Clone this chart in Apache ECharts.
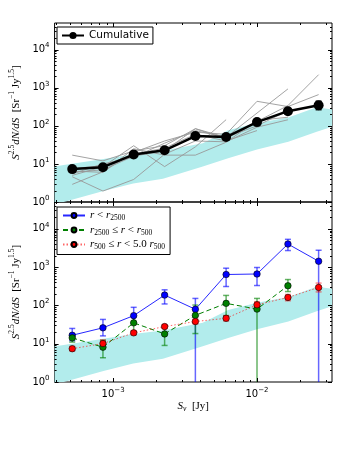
<!DOCTYPE html>
<html>
<head>
<meta charset="utf-8">
<script src="https://cdn.jsdelivr.net/npm/echarts@6/dist/echarts.min.js"></script>
<style>
    html, body { margin: 0; padding: 0; background: #fff; }
    #main { width: 350px; height: 450px; }
</style>
</head>
<body>
<div id="main"></div>
<script>
// flux bins [Jy]
var fluxBins = [5.2e-4, 8.5e-4, 1.39e-3, 2.28e-3, 3.73e-3, 6.1e-3, 1.0e-2, 1.64e-2, 2.68e-2];

// cumulative counts + errors
var cumVal = [7.3, 8.2, 17.6, 22.8, 53.8, 50.7, 125, 242, 347];
var cumLo = [6.6, 7.4, 16, 20.5, 48, 45, 108, 205, 265];
var cumHi = [8, 9, 19.2, 25, 60, 57, 145, 285, 440];

// single clusters (grey)
var grayA = [17, 12, 22, 30, 84, 50, 216, 930, null];
var grayB = [5, 8.4, 30, 8.5, 28, 145, null, null, null];
var grayC = [4.6, 1.94, 3.9, 18, 40, 38, 92, 144, null];
var grayD = [2.9, 6.2, 20, 40, 68, 60, 440, 320, 660];
var grayE = [6.5, 6, 25, 17, 17, 37, 138, 168, null];
var grayF = [6, 7, 16, 22, 84, 45, 130, 340, 2200];
var grayG = [7.5, 9, 18, 26, 60, 40, 75, null, null];
var grayH = [5.5, 10, 15, 35, 75, 50, 100, 250, null];

// radial bins
var innerVal = [16.6, 26, 54, 186, 79, 640, 660, 4000, 1420];
var innerLo = [12, 16, 35, 109, 0.1, 311, 330, 2700, 0.1];
var innerHi = [25, 43, 89, 255, 152, 935, 975, 5300, 2750];

var midVal = [14.2, 8.1, 35, 18, 55, 113, 80, 325, null];
var midLo = [11, 4.3, 21, 9, 18.4, 54, 0.1, 230, null];
var midHi = [18, 12.3, 52, 28, 102, 182, 152, 473, null];

var outVal = [7.4, 10.1, 19.2, 28, 38, 46, 104, 161, 294];
var outLo = [6.5, 8, 17, 25, 33, 39, 85, 132, 225];
var outHi = [8.5, 12.5, 21.5, 31, 44, 54, 125, 192, 382];

// model band (cyan)
var bandX = [3.92e-4, 4.54e-4, 8.57e-4, 1.38e-3, 2.22e-3, 4.2e-3, 6.3e-3, 1.0e-2, 1.65e-2, 2.6e-2, 3.32e-2];
var bandHi = [8.6, 9.3, 13.4, 18, 22, 35, 76, 118, 165, 305, 270];
var bandLo = [0.8, 1.0, 1.93, 3.06, 4.05, 8.6, 14, 24, 38, 70, 95];

// tick positions
var xMajor = [1e-3, 1e-2];
var xMinor = [4e-4, 5e-4, 6e-4, 7e-4, 8e-4, 9e-4, 2e-3, 3e-3, 4e-3, 5e-3, 6e-3, 7e-3, 8e-3, 9e-3, 2e-2, 3e-2];
var yMajor = [1, 10, 100, 1000, 10000];
var yMinor = [];
[1, 10, 100, 1000, 10000].forEach(function (d) {
    for (var m = 2; m <= 9; m++) {
        if (d * m < 5e4) yMinor.push(d * m);
    }
});

var names = {
    cum: 'Cumulative',
    inner: 'r<r2500',
    mid: 'r2500<=r<r500',
    out: 'r500<=r<5r500'
};

function pairs(ys) {
    var out = [];
    for (var i = 0; i < fluxBins.length; i++) {
        if (ys[i] != null) out.push([fluxBins[i], ys[i]]);
    }
    return out;
}

function errData(lo, hi) {
    var out = [];
    for (var i = 0; i < fluxBins.length; i++) {
        if (lo[i] != null) out.push([fluxBins[i], lo[i], hi[i]]);
    }
    return out;
}

function seg(x1, y1, x2, y2, color, w) {
    return {type: 'line', shape: {x1: x1, y1: y1, x2: x2, y2: y2}, style: {stroke: color, lineWidth: w}};
}

// error bars
function errRender(color, cap, w) {
    return function (params, api) {
        var x = api.value(0);
        var lo = api.coord([x, api.value(1)]);
        var hi = api.coord([x, api.value(2)]);
        return {
            type: 'group',
            children: [
                seg(lo[0], lo[1], hi[0], hi[1], color, w),
                seg(hi[0] - cap, hi[1], hi[0] + cap, hi[1], color, w),
                seg(lo[0] - cap, lo[1], lo[0] + cap, lo[1], color, w)
            ]
        };
    };
}

// cyan band
function bandRender(params, api) {
    var pts = [];
    for (var i = 0; i < bandX.length; i++) pts.push(api.coord([bandX[i], bandHi[i]]));
    for (var j = bandX.length - 1; j >= 0; j--) pts.push(api.coord([bandX[j], bandLo[j]]));
    return {type: 'polygon', shape: {points: pts}, style: {fill: '#b2ecec'}};
}

// ticks on all four sides, pointing inwards
function tickRender(params, api) {
    var cs = params.coordSys;
    var l = cs.x, r = cs.x + cs.width, t = cs.y, b = cs.y + cs.height;
    var kids = [];
    function xt(v, len) {
        var px = Math.round(api.coord([v, 10])[0]) + 0.5;
        kids.push(seg(px, b, px, b - len, '#000', 1));
        kids.push(seg(px, t, px, t + len, '#000', 1));
    }
    function yt(v, len) {
        var py = Math.round(api.coord([1e-3, v])[1]) + 0.5;
        kids.push(seg(l, py, l + len, py, '#000', 1));
        kids.push(seg(r, py, r - len, py, '#000', 1));
    }
    xMajor.forEach(function (v) { xt(v, 4); });
    xMinor.forEach(function (v) { xt(v, 2); });
    yMajor.forEach(function (v) { yt(v, 4); });
    yMinor.forEach(function (v) { yt(v, 2); });
    return {type: 'group', children: kids};
}

function powLabel(v) {
    var e = Math.round(Math.log10(v));
    return '{b|10}{s|' + String(e).replace('-', '\u2212') + '}';
}

var labelRich = {
    b: {fontFamily: 'DejaVu Sans', fontSize: 10, color: '#000'},
    s: {fontFamily: 'DejaVu Sans', fontSize: 7, color: '#000', padding: [0, 0, 8, 0]}
};

var mathRich = {
    i: {fontFamily: 'Liberation Serif', fontStyle: 'italic', fontSize: 11, color: '#000'},
    r: {fontFamily: 'Liberation Serif', fontSize: 11, color: '#000'},
    sup: {fontFamily: 'Liberation Serif', fontSize: 7.5, color: '#000', padding: [0, 0, 8, 0]},
    sub: {fontFamily: 'Liberation Serif', fontSize: 7.5, color: '#000', padding: [6, 0, 0, 0]},
    isub: {fontFamily: 'Liberation Serif', fontStyle: 'italic', fontSize: 7.5, color: '#000', padding: [6, 0, 0, 0]}
};

var yName = '{i|S}{sup|2.5}{i|dN/dS}{r|  [Sr}{sup|\u22121}{r| Jy}{sup|1.5}{r|]}';

function xAxisOf(idx, showLabels) {
    return {
        type: 'log',
        gridIndex: idx,
        min: 3.92e-4,
        max: 3.32e-2,
        axisLine: {show: false},
        axisTick: {show: false},
        splitLine: {show: false},
        axisLabel: {
            show: showLabels,
            showMinLabel: false,
            showMaxLabel: false,
            margin: 5,
            formatter: powLabel,
            rich: labelRich
        },
        name: showLabels ? '{i|S}{isub|\u03bd}{r|  [Jy]}' : '',
        nameLocation: 'middle',
        nameGap: 17,
        nameTextStyle: {rich: mathRich}
    };
}

function yAxisOf(idx) {
    return {
        type: 'log',
        gridIndex: idx,
        min: 1,
        max: 5e4,
        axisLine: {show: false},
        axisTick: {show: false},
        splitLine: {show: false},
        axisLabel: {
            showMinLabel: true,
            showMaxLabel: false,
            margin: 5,
            formatter: powLabel,
            rich: labelRich
        },
        name: yName,
        nameLocation: 'middle',
        nameRotate: 90,
        nameGap: 24,
        nameTextStyle: {rich: mathRich}
    };
}

function grayLine(ys) {
    return {
        type: 'line', xAxisIndex: 0, yAxisIndex: 0, data: pairs(ys),
        showSymbol: false, symbol: 'none', z: 1, silent: true,
        lineStyle: {color: '#999999', width: 0.9}
    };
}

var worldMapContainer = document.getElementById('main');
var myChart = echarts.init(worldMapContainer, null, {renderer: 'canvas'});

var series = [
    // bands
    {type: 'custom', xAxisIndex: 0, yAxisIndex: 0, data: [[1e-3, 10]], renderItem: bandRender, clip: true, z: 0, silent: true},
    {type: 'custom', xAxisIndex: 1, yAxisIndex: 1, data: [[1e-3, 10]], renderItem: bandRender, clip: true, z: 0, silent: true},
    grayLine(grayA), grayLine(grayB), grayLine(grayC), grayLine(grayD),
    grayLine(grayE), grayLine(grayF), grayLine(grayG), grayLine(grayH),
    // error bars
    {type: 'custom', xAxisIndex: 0, yAxisIndex: 0, data: errData(cumLo, cumHi), renderItem: errRender('#000', 3, 1.5), clip: true, z: 2, silent: true},
    {type: 'custom', xAxisIndex: 1, yAxisIndex: 1, data: errData(innerLo, innerHi), renderItem: errRender('rgba(0,0,255,0.6)', 3, 1.5), clip: true, z: 2, silent: true},
    {type: 'custom', xAxisIndex: 1, yAxisIndex: 1, data: errData(midLo, midHi), renderItem: errRender('rgba(0,128,0,0.6)', 3, 1.5), clip: true, z: 2, silent: true},
    {type: 'custom', xAxisIndex: 1, yAxisIndex: 1, data: errData(outLo, outHi), renderItem: errRender('rgba(255,0,0,0.45)', 3, 1.5), clip: true, z: 2, silent: true},
    // main lines
    {
        name: names.cum, type: 'line', xAxisIndex: 0, yAxisIndex: 0, data: pairs(cumVal), z: 3,
        symbol: 'circle', symbolSize: 10, lineStyle: {color: '#000', width: 2.5},
        itemStyle: {color: '#000'}
    },
    {
        name: names.inner, type: 'line', xAxisIndex: 1, yAxisIndex: 1, data: pairs(innerVal), z: 3,
        symbol: 'circle', symbolSize: 6.5, lineStyle: {color: '#0000ff', width: 1, opacity: 0.85},
        itemStyle: {color: '#0000ff', borderColor: '#000', borderWidth: 0.6}
    },
    {
        name: names.mid, type: 'line', xAxisIndex: 1, yAxisIndex: 1, data: pairs(midVal), z: 3,
        symbol: 'circle', symbolSize: 6.5, lineStyle: {color: '#008000', width: 1, type: [5, 3]},
        itemStyle: {color: '#008000', borderColor: '#000', borderWidth: 0.6}
    },
    {
        name: names.out, type: 'line', xAxisIndex: 1, yAxisIndex: 1, data: pairs(outVal), z: 3,
        symbol: 'circle', symbolSize: 6.5, lineStyle: {color: '#ff0000', width: 1, type: [1.5, 2], opacity: 0.6},
        itemStyle: {color: '#ff0000', borderColor: '#000', borderWidth: 0.6}
    },
    // ticks
    {type: 'custom', xAxisIndex: 0, yAxisIndex: 0, data: [[1e-3, 10]], renderItem: tickRender, z: 5, silent: true},
    {type: 'custom', xAxisIndex: 1, yAxisIndex: 1, data: [[1e-3, 10]], renderItem: tickRender, z: 5, silent: true}
];

var option = {
    animation: false,
    backgroundColor: '#fff',
    grid: [
        {left: 53, top: 23, width: 279, height: 179, show: true, borderColor: '#000', borderWidth: 1, backgroundColor: 'transparent'},
        {left: 53, top: 202, width: 279, height: 180, show: true, borderColor: '#000', borderWidth: 1, backgroundColor: 'transparent'}
    ],
    xAxis: [xAxisOf(0, false), xAxisOf(1, true)],
    yAxis: [yAxisOf(0), yAxisOf(1)],
    legend: [
        {
            data: [names.cum],
            left: 57, top: 27,
            padding: [3, 4, 3, 4],
            itemWidth: 22, itemHeight: 9,
            borderColor: '#000', borderWidth: 1, borderRadius: 0,
            backgroundColor: '#fff',
            textStyle: {fontFamily: 'DejaVu Sans', fontSize: 10.5, color: '#000'}
        },
        {
            data: [names.inner, names.mid, names.out],
            left: 57, top: 207,
            orient: 'vertical',
            padding: [3, 5, 3, 5],
            itemGap: 2,
            itemWidth: 22, itemHeight: 6,
            borderColor: '#000', borderWidth: 1, borderRadius: 0,
            backgroundColor: '#fff',
            formatter: function (name) {
                if (name === names.inner) return '{i|r}{r| < }{i|r}{sub|2500}';
                if (name === names.mid) return '{i|r}{sub|2500}{r| \u2264 }{i|r}{r| < }{i|r}{sub|500}';
                return '{i|r}{sub|500}{r| \u2264 }{i|r}{r| < 5.0 }{i|r}{sub|500}';
            },
            textStyle: {rich: mathRich}
        }
    ],
    series: series
};

myChart.setOption(option);
</script>
</body>
</html>
